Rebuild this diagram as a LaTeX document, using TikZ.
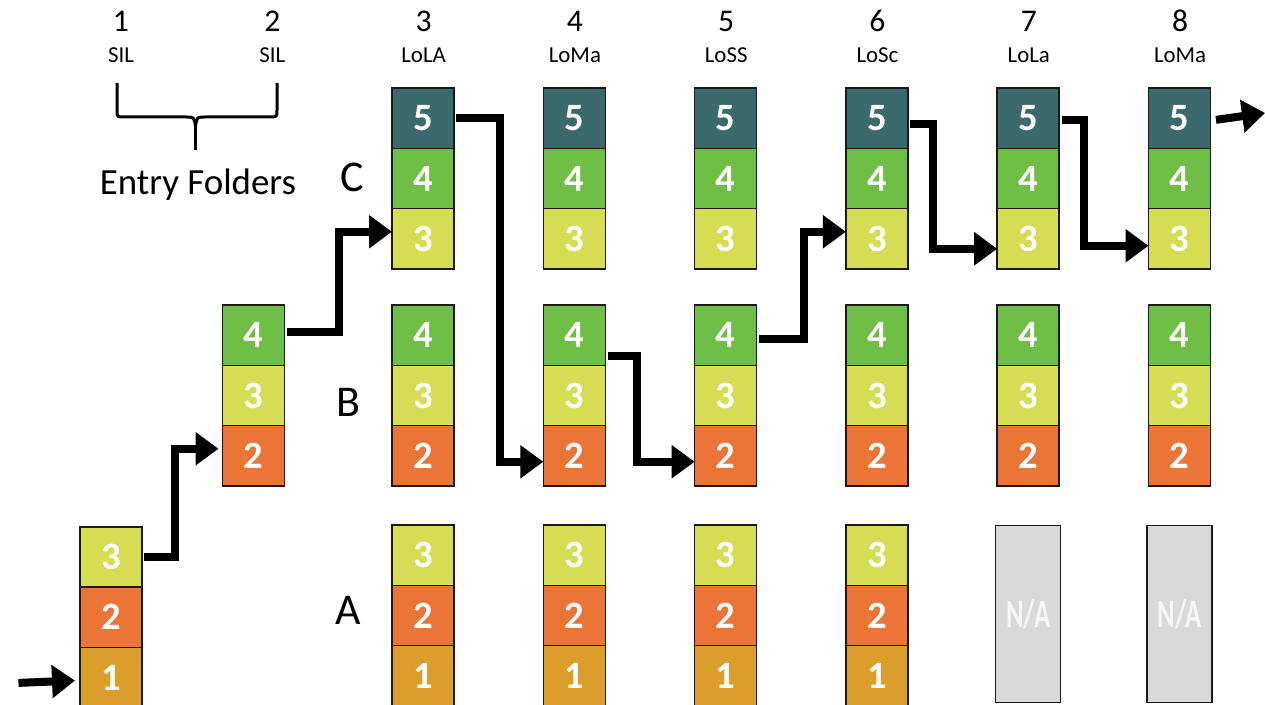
\documentclass[tikz,border=0pt]{standalone}
\usepackage{fontspec}
\setmainfont{Carlito}
\newfontfamily\narrowfont[FakeStretch=0.66]{Carlito}
\usetikzlibrary{positioning, arrows.meta}
\definecolor{lvl-one}{HTML}{DB9E2B}
\definecolor{lvl-two}{HTML}{EA7537}
\definecolor{lvl-three}{HTML}{D6DD52}
\definecolor{lvl-four}{HTML}{6FBE45}
\definecolor{lvl-five}{HTML}{3B6A6E}
\definecolor{na-grey}{HTML}{D9D9D9}
\definecolor{na-text}{HTML}{F7F7F7}

\tikzset{
  cell/.style={draw=black!90, line width=0.03cm, outer sep=0pt, inner sep=0pt,
    minimum width=1.24cm, minimum height=1.206cm, text=white,
    font=\fontsize{22}{24}\selectfont\bfseries},
  tier1/.style={cell, fill=lvl-one},
  tier2/.style={cell, fill=lvl-two},
  tier3/.style={cell, fill=lvl-three},
  tier4/.style={cell, fill=lvl-four},
  tier5/.style={cell, fill=lvl-five},
  naBox/.style={cell, fill=na-grey, minimum width=1.3cm, minimum height=3.54cm,
    text=na-text, font=\fontsize{23}{25}\narrowfont\bfseries},
  colnum/.style={anchor=base, inner sep=0pt, font=\fontsize{18}{20}\selectfont},
  colsub/.style={anchor=base, inner sep=0pt, font=\fontsize{13}{15}\selectfont},
  rowlab/.style={inner sep=0pt, font=\fontsize{25}{28}\selectfont},
  flow/.style={line width=0.16cm, shorten <=0.05cm,
    -{Triangle[length=0.46cm, width=0.64cm]}},
}

\begin{document}
\begin{tikzpicture}[x=0.02cm, y=0.02cm]
  \useasboundingbox (0,0) rectangle (1265,704);

  % column headers
  \foreach \num/\lab in {1/SIL,2/SIL,3/LoLA,4/LoMa,5/LoSS,6/LoSc,7/LoLa,8/LoMa}{
    \node[colnum] (hd\num) at ({121+151.3*(\num-1)}, 672) {\num};
    \node[colsub] (sub\num) at ({121+151.3*(\num-1)}, 641) {\lab};
  }

  % brace over the two entry folders
  \draw[line width=0.06cm]
    (117,621) -- (117,594) .. controls (117,587) .. (125,587) -- (186,587)
    .. controls (194,587) .. (195.5,578) .. controls (197,587) .. (205,587)
    -- (269,587) .. controls (277,587) .. (277,594) -- (277,621);
  \draw[line width=0.06cm] (195.5,580) -- (195.5,554);
  \node[font=\fontsize{21}{24}\selectfont] (entry) at (198,519) {Entry Folders};

  % row labels
  \node[rowlab] (labC) at (352,527) {C};
  \node[rowlab] (labB) at (348,302) {B};
  \node[rowlab] (labA) at (348,94) {A};

  % entry folders 1 and 2
  \node[tier3] (E1-3) at (111,147) {3};
  \node[tier2, below=0pt of E1-3] (E1-2) {2};
  \node[tier1, below=0pt of E1-2] (E1-1) {1};
  \node[tier4] (E2-4) at (253.5,368.8) {4};
  \node[tier3, below=0pt of E2-4] (E2-3) {3};
  \node[tier2, below=0pt of E2-3] (E2-2) {2};

  % stacks C and B, columns 3-8
  \foreach \col in {3,...,8}{
    \node[tier5] (C\col-5) at ({423+151.3*(\col-3)}, 585.8) {5};
    \node[tier4, below=0pt of C\col-5] (C\col-4) {4};
    \node[tier3, below=0pt of C\col-4] (C\col-3) {3};
    \node[tier4] (B\col-4) at ({423+151.3*(\col-3)}, 368.8) {4};
    \node[tier3, below=0pt of B\col-4] (B\col-3) {3};
    \node[tier2, below=0pt of B\col-3] (B\col-2) {2};
  }
  % stack A
  \foreach \col in {3,...,6}{
    \node[tier3] (A\col-3) at ({423+151.3*(\col-3)}, 148.8) {3};
    \node[tier2, below=0pt of A\col-3] (A\col-2) {2};
    \node[tier1, below=0pt of A\col-2] (A\col-1) {1};
  }
  \foreach \col in {7,8}
    \node[naBox] (A\col-na) at ({423+151.3*(\col-3)}, 90) {N/A};

  % path through the folders
  \coordinate (inlet) at (16,21);
  \coordinate (outlet) at (1265,591);
  \draw[flow] (inlet) -- ([xshift=-0.1cm, yshift=-0.06cm]E1-1.west);
  \draw[flow] (E1-3.east) -- ++(33,0) |- ([xshift=-0.08cm, yshift=0.14cm]E2-2.west);
  \draw[flow] ([yshift=0.06cm]E2-4.east) -- ++(55,0) |- ([yshift=0.14cm]C3-3.west);
  \draw[flow] (C3-5.east) -- ++(46,0) |- ([yshift=-0.12cm]B4-2.west);
  \draw[flow] ([yshift=-0.42cm]B4-4.east) -- ++(32,0) |- ([yshift=-0.12cm]B5-2.west);
  \draw[flow] ([yshift=-0.08cm]B5-4.east) -- ++(47,0) |- ([yshift=0.14cm]C6-3.west);
  \draw[flow] ([yshift=-0.12cm]C6-5.east) -- ++(25,0) |- ([yshift=-0.2cm]C7-3.west);
  \draw[flow] ([yshift=-0.04cm]C7-5.east) -- ++(25,0) |- ([yshift=-0.14cm]C8-3.west);
  \draw[flow] ([xshift=0.06cm, yshift=-0.04cm]C8-5.east) -- (outlet);
\end{tikzpicture}
\end{document}
